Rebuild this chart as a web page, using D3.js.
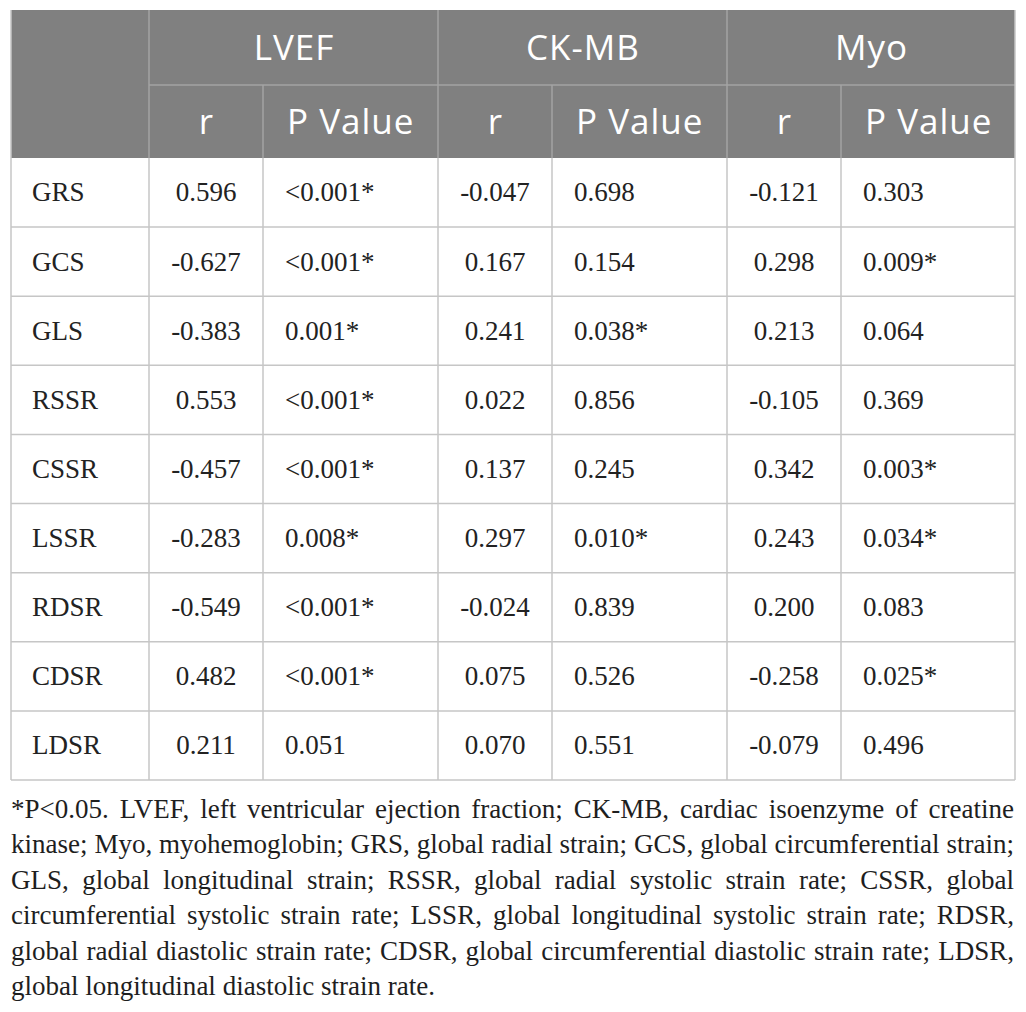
<!DOCTYPE html>
<html><head><meta charset="utf-8">
<script src="https://cdn.jsdelivr.net/npm/d3@7"></script>
<style>html,body{margin:0;padding:0;background:#fff;}</style>
</head><body>
<script>
// ---- data ----
const rowLabels = ["GRS","GCS","GLS","RSSR","CSSR","LSSR","RDSR","CDSR","LDSR"];
const groups = ["LVEF","CK-MB","Myo"];
const subHeaders = ["r","P Value"];
const lvefR = ["0.596","-0.627","-0.383","0.553","-0.457","-0.283","-0.549","0.482","0.211"];
const lvefP = ["<0.001*","<0.001*","0.001*","<0.001*","<0.001*","0.008*","<0.001*","<0.001*","0.051"];
const ckmbR = ["-0.047","0.167","0.241","0.022","0.137","0.297","-0.024","0.075","0.070"];
const ckmbP = ["0.698","0.154","0.038*","0.856","0.245","0.010*","0.839","0.526","0.551"];
const myoR = ["-0.121","0.298","0.213","-0.105","0.342","0.243","0.200","-0.258","-0.079"];
const myoP = ["0.303","0.009*","0.064","0.369","0.003*","0.034*","0.083","0.025*","0.496"];
const footnoteLines = [
 "*P<0.05. LVEF, left ventricular ejection fraction; CK-MB, cardiac isoenzyme of creatine",
 "kinase; Myo, myohemoglobin; GRS, global radial strain; GCS, global circumferential strain;",
 "GLS, global longitudinal strain; RSSR, global radial systolic strain rate; CSSR, global",
 "circumferential systolic strain rate; LSSR, global longitudinal systolic strain rate; RDSR,",
 "global radial diastolic strain rate; CDSR, global circumferential diastolic strain rate; LDSR,",
 "global longitudinal diastolic strain rate."
];
const columns = [lvefR, lvefP, ckmbR, ckmbP, myoR, myoP];

// ---- layout ----
const W = 1026, H = 1012;
const colEdges = [11,149,263,438,552,727,841,1015];
const headTop = 10, head1 = 85, head2 = 158, tableBottom = 780;
const headBg = "#808080", headLine = "#a3a3a3", bodyLine = "#c6c6c6";
const sansFont = "'Open Sans', 'Noto Sans', sans-serif";
const serifFont = "'Liberation Serif', 'Times New Roman', serif";

const svg = d3.select("body").append("svg").attr("width", W).attr("height", H);

const y = d3.scaleBand().domain(rowLabels).range([head2, tableBottom]);

// header background
svg.append("rect").attr("x", colEdges[0]).attr("y", headTop)
  .attr("width", colEdges[7]-colEdges[0]).attr("height", head2-headTop).attr("fill", headBg);

// header lines
const hl = svg.append("g").attr("stroke", headLine).attr("stroke-width", 1.5);
hl.append("line").attr("x1", colEdges[1]).attr("x2", colEdges[7]).attr("y1", head1).attr("y2", head1);
[1,3,5].forEach(i => hl.append("line").attr("x1", colEdges[i]).attr("x2", colEdges[i]).attr("y1", headTop).attr("y2", head2));
[2,4,6].forEach(i => hl.append("line").attr("x1", colEdges[i]).attr("x2", colEdges[i]).attr("y1", head1).attr("y2", head2));

// header text
const hsize = 35;
const hg = svg.append("g").attr("font-family", sansFont).attr("font-size", hsize)
  .attr("fill", "#fff").attr("letter-spacing", 1);
groups.forEach((g, i) => {
  const x0 = colEdges[1+2*i], x1 = colEdges[3+2*i];
  hg.append("text").attr("x", (x0+x1)/2 + 0.5).attr("y", (headTop+head1)/2 + hsize*0.36)
    .attr("text-anchor","middle").text(g);
});
for (let c = 0; c < 6; c++) {
  const x0 = colEdges[1+c], x1 = colEdges[2+c];
  const isR = c % 2 === 0;
  hg.append("text").attr("x", isR ? (x0+x1)/2 + 0.5 : x0 + 24)
    .attr("y", (head1+head2)/2 + hsize*0.36)
    .attr("text-anchor", isR ? "middle" : "start")
    .text(subHeaders[c % 2]);
}

// body grid
const bl = svg.append("g").attr("stroke", bodyLine).attr("stroke-width", 1.5);
rowLabels.forEach(r => {
  bl.append("line").attr("x1", colEdges[0]).attr("x2", colEdges[7])
    .attr("y1", y(r)+y.bandwidth()).attr("y2", y(r)+y.bandwidth());
});
colEdges.forEach(x => bl.append("line").attr("x1", x).attr("x2", x).attr("y1", head2).attr("y2", tableBottom));
bl.append("line").attr("x1", colEdges[0]).attr("x2", colEdges[0]).attr("y1", headTop).attr("y2", head2);
bl.append("line").attr("x1", colEdges[7]).attr("x2", colEdges[7]).attr("y1", headTop).attr("y2", head2);

// body text
const bsize = 27;
const body = svg.append("g").attr("font-family", serifFont).attr("font-size", bsize).attr("fill", "#222");
rowLabels.forEach((r, ri) => {
  const cy = y(r) + y.bandwidth()/2 + bsize*0.33;
  body.append("text").attr("x", colEdges[0] + 21).attr("y", cy).text(r);
  columns.forEach((col, c) => {
    const x0 = colEdges[1+c], x1 = colEdges[2+c];
    const isR = c % 2 === 0;
    body.append("text").attr("x", isR ? (x0+x1)/2 : x0 + 22).attr("y", cy)
      .attr("text-anchor", isR ? "middle" : "start").text(col[ri]);
  });
});

// footnote, justified word by word
const fsize = 27, fLeft = 11, fRight = 1014, lastEnd = 435;
const baseline0 = 818, lineGap = 35.4;
const fg = svg.append("g").attr("font-family", serifFont).attr("font-size", fsize).attr("fill", "#1e1e1e");
const probe = fg.append("text").attr("x", -1000).attr("y", -1000);
function measure(s){ probe.text(s); return probe.node().getComputedTextLength(); }
const spaceW = measure("a a") - measure("aa");
const lastWords = footnoteLines[footnoteLines.length-1].split(" ");
const lastNat = d3.sum(lastWords, measure) + spaceW*(lastWords.length-1);
let k = (lastEnd - fLeft) / lastNat;
// make sure every justified line still fits with a minimal gap
footnoteLines.slice(0, -1).forEach(line => {
  const words = line.split(" ");
  const nat = d3.sum(words, measure) + spaceW*0.6*(words.length-1);
  k = Math.min(k, (fRight - fLeft) / nat);
});
footnoteLines.forEach((line, li) => {
  const words = line.split(" ");
  const widths = words.map(w => measure(w) * k);
  const isLast = li === footnoteLines.length - 1;
  const gap = isLast ? spaceW * k : (fRight - fLeft - d3.sum(widths)) / (words.length - 1);
  let x = fLeft;
  words.forEach((w, wi) => {
    fg.append("text").attr("x", x).attr("y", baseline0 + li*lineGap)
      .attr("textLength", widths[wi]).attr("lengthAdjust", "spacingAndGlyphs").text(w);
    x += widths[wi] + gap;
  });
});
probe.remove();
</script>
</body></html>
